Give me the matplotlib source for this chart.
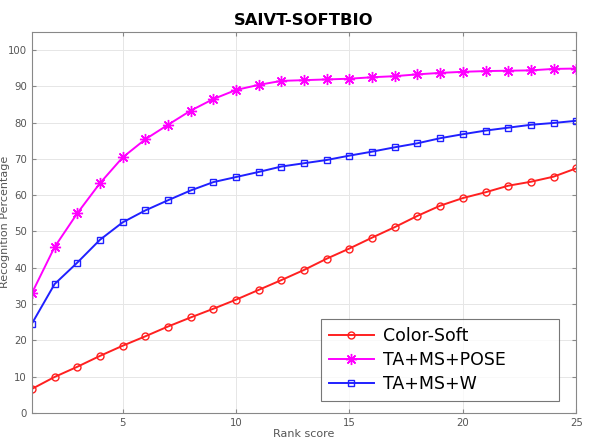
import numpy as np
import matplotlib.pyplot as plt

# rank 1..25
rank = np.arange(1, 26)

color_soft = [6.6, 9.9, 12.7, 15.7, 18.5, 21.1, 23.8, 26.3, 28.7, 31.2,
              33.9, 36.6, 39.4, 42.5, 45.3, 48.3, 51.2, 54.3, 57.1, 59.2,
              60.8, 62.6, 63.7, 65.1, 67.4]
ta_ms_pose = [33.0, 45.7, 55.0, 63.3, 70.4, 75.4, 79.4, 83.3, 86.5, 89.0,
              90.4, 91.5, 91.7, 91.9, 92.1, 92.5, 92.8, 93.3, 93.7, 94.0,
              94.2, 94.3, 94.4, 94.8, 94.9]
ta_ms_w = [24.6, 35.5, 41.4, 47.7, 52.5, 55.8, 58.6, 61.3, 63.6, 65.0,
           66.4, 67.9, 68.8, 69.7, 70.9, 72.0, 73.2, 74.3, 75.7, 76.8,
           77.8, 78.6, 79.4, 79.9, 80.5]

labels = ['Color-Soft', 'TA+MS+POSE', 'TA+MS+W']

fig = plt.figure(figsize=(5.91, 4.43), dpi=100)
ax = fig.add_axes([0.054, 0.068, 0.921, 0.860])

ax.plot(rank, color_soft, color='#ff2020', marker='o', markersize=5,
        markerfacecolor='none', linewidth=1.4, label=labels[0])
ax.plot(rank, ta_ms_pose, color='#ff00ff', marker=(8, 2, 0), markersize=8,
        linewidth=1.4, label=labels[1])
ax.plot(rank, ta_ms_w, color='#2020ff', marker='s', markersize=5,
        markerfacecolor='none', linewidth=1.4, label=labels[2])

ax.set_xlim(1, 25)
ax.set_ylim(0, 105)
ax.set_xticks([5, 10, 15, 20, 25])
ax.set_yticks(np.arange(0, 101, 10))
ax.tick_params(direction='in', top=True, right=True, labelsize=7.3,
               labelcolor='#555555', color='#888888', length=3)
ax.grid(True, color='#e6e6e6', linewidth=0.7)
for s in ax.spines.values():
    s.set_color('#888888')
    s.set_linewidth(0.8)

ax.set_title('SAIVT-SOFTBIO', fontsize=11.8, fontweight='bold', pad=5)
ax.set_xlabel('Rank score', fontsize=8, color='#555555', labelpad=1)
fig.text(0.009, 0.5, 'Recognition Percentage', rotation=90, fontsize=8,
         color='#555555', ha='center', va='center')

# wide matlab-style legend box
leg = ax.legend(loc='lower left', bbox_to_anchor=(0.531, 0.032, 0.4375, 0.226),
                mode='expand', fontsize=12.5, fancybox=False, edgecolor='#555555',
                handlelength=2.6, borderpad=0.45, labelspacing=0.35,
                handletextpad=0.5, borderaxespad=0)
leg.get_frame().set_linewidth(0.8)

fig.savefig('out.png', dpi=100)
